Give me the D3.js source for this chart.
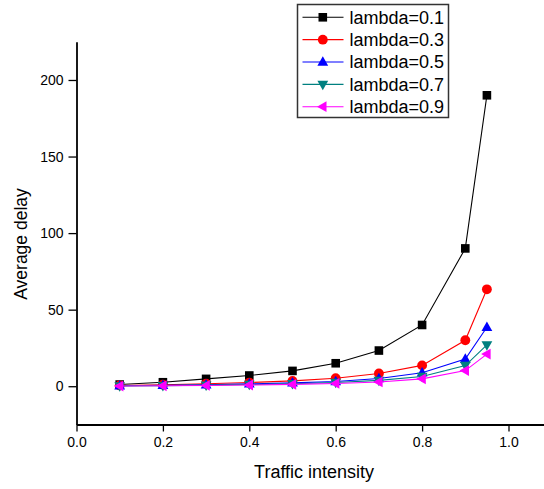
<!DOCTYPE html>
<html>
<head>
<meta charset="utf-8">
<script src="https://cdn.jsdelivr.net/npm/d3@7"></script>
<style>
  html, body { margin: 0; padding: 0; background: #fff; overflow: hidden; }
  svg { display: block; font-family: "Liberation Sans", Arial, sans-serif; }
</style>
</head>
<body>
<svg id="chart" width="544" height="489"></svg>
<script>
// Traffic intensity values (x) shared by every series
const intensity = [0.1, 0.2, 0.3, 0.4, 0.5, 0.6, 0.7, 0.8, 0.9, 0.95];

// Average delay for each lambda
const delay01 = [1.1, 2.6, 4.8, 7, 10, 15, 23.3, 40, 90, 190];
const delay03 = [0.5, 1, 1.6, 2.4, 3.5, 5.2, 8.3, 13.6, 30, 63.3];
const delay05 = [0.3, 0.6, 1, 1.5, 2.2, 3.1, 5, 8.8, 17.8, 38.5];
const delay07 = [0.2, 0.4, 0.7, 1.1, 1.6, 2.4, 3.8, 6.3, 13.5, 27];
const delay09 = [0.1, 0.3, 0.5, 0.8, 1.2, 1.8, 2.8, 4.8, 10.2, 21];

const seriesNames = ["lambda=0.1", "lambda=0.3", "lambda=0.5", "lambda=0.7", "lambda=0.9"];
const seriesColors = ["#000000", "#ff0000", "#0000ff", "#008080", "#ff00ff"];
const seriesSymbols = ["square", "circle", "up", "down", "left"];
const seriesValues = [delay01, delay03, delay05, delay07, delay09];

// Axis ticks
const xMajor = [0, 0.2, 0.4, 0.6, 0.8, 1.0];
const xMinor = [0.1, 0.3, 0.5, 0.7, 0.9];
const yMajor = [0, 50, 100, 150, 200];
const yMinor = [25, 75, 125, 175, 225];

const svg = d3.select("#chart");

const x = d3.scaleLinear().domain([0, 1.1]).range([76.5, 551.7]);
const y = d3.scaleLinear().domain([-25, 225]).range([424.5, 41.7]);

// Marker path generator
function markerPath(kind) {
  switch (kind) {
    case "square": return "M-4.3,-4.3H4.3V4.3H-4.3Z";
    case "circle": return d3.symbol(d3.symbolCircle, 76)();
    case "up": return "M0,-5.8L5.4,3.7L-5.4,3.7Z";
    case "down": return "M0,5.8L5.4,-3.7L-5.4,-3.7Z";
    case "left": return "M-5.8,0L3.7,-5.4L3.7,5.4Z";
  }
}

// Axes
const gx = svg.append("g").attr("transform", `translate(0,${y(-25)})`);
gx.call(d3.axisBottom(x).tickValues(xMinor).tickSize(4).tickSizeOuter(0).tickFormat(""));
gx.call(d3.axisBottom(x).tickValues(xMajor).tickSize(7).tickSizeOuter(0).tickFormat(d3.format(".1f")));
gx.selectAll("text").attr("font-size", 14).attr("fill", "#000").attr("dy", "0.75em").attr("y", 12);

const gy = svg.append("g").attr("transform", `translate(${x(0)},0)`);
gy.call(d3.axisLeft(y).tickValues(yMinor).tickSize(4).tickSizeOuter(0).tickFormat(""));
gy.call(d3.axisLeft(y).tickValues(yMajor).tickSize(8).tickSizeOuter(0));
gy.selectAll("text").attr("font-size", 14).attr("fill", "#000").attr("x", -13);

svg.selectAll(".domain").attr("stroke", "#000").attr("stroke-width", 1.8);
svg.selectAll(".tick line").attr("stroke", "#000").attr("stroke-width", 1.3);

// Axis titles
svg.append("text")
  .attr("x", (x(0) + x(1.1)) / 2).attr("y", 478)
  .attr("text-anchor", "middle").attr("font-size", 18).attr("fill", "#000")
  .text("Traffic intensity");

svg.append("text")
  .attr("transform", `translate(27,244) rotate(-90)`)
  .attr("text-anchor", "middle").attr("font-size", 17.5).attr("fill", "#000")
  .text("Average delay");

// Series lines and markers
const line = d3.line().x((d, i) => x(intensity[i])).y(d => y(d));

seriesValues.forEach((vals, s) => {
  const g = svg.append("g");
  g.append("path").datum(vals)
    .attr("d", line)
    .attr("fill", "none")
    .attr("stroke", seriesColors[s])
    .attr("stroke-width", 1.1);
  g.selectAll("path.marker").data(vals).join("path")
    .attr("class", "marker")
    .attr("transform", (d, i) => `translate(${x(intensity[i])},${y(d)})`)
    .attr("d", markerPath(seriesSymbols[s]))
    .attr("fill", seriesColors[s]);
});

// Legend
const legend = svg.append("g");
legend.append("rect")
  .attr("x", 297.5).attr("y", 4.5).attr("width", 151).attr("height", 113)
  .attr("fill", "#fff").attr("stroke", "#333").attr("stroke-width", 1.5);

seriesNames.forEach((name, s) => {
  const cy = 17.3 + s * 22.35;
  legend.append("line")
    .attr("x1", 302.5).attr("x2", 343.5).attr("y1", cy).attr("y2", cy)
    .attr("stroke", seriesColors[s]).attr("stroke-width", 1.1);
  legend.append("path")
    .attr("transform", `translate(322.8,${cy})`)
    .attr("d", markerPath(seriesSymbols[s]))
    .attr("fill", seriesColors[s]);
  legend.append("text")
    .attr("x", 349.5).attr("y", cy).attr("dy", "0.36em")
    .attr("font-size", 18).attr("fill", "#000")
    .text(name);
});
</script>
</body>
</html>
